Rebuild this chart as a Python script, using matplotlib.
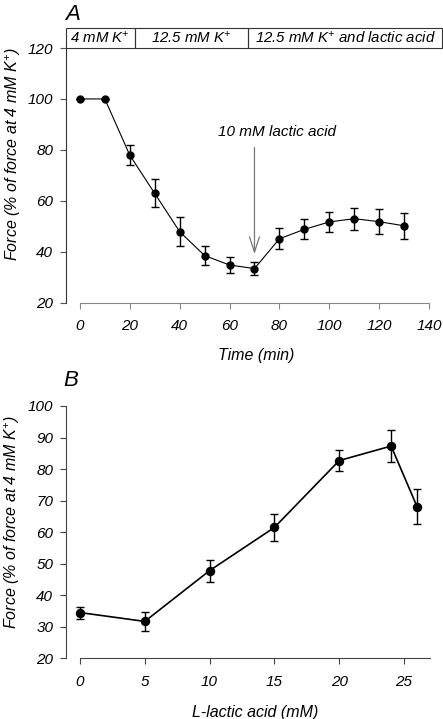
import matplotlib.pyplot as plt
from matplotlib.patches import Rectangle

plt.rcParams['font.family'] = 'Liberation Sans'
plt.rcParams['font.style'] = 'italic'
plt.rcParams['mathtext.fontset'] = 'custom'
plt.rcParams['mathtext.rm'] = 'Liberation Sans:italic'
plt.rcParams['mathtext.it'] = 'Liberation Sans:italic'

# Panel A: force over time
time_min = [0, 10, 20, 30, 40, 50, 60, 70, 80, 90, 100, 110, 120, 130]
force_a = [100, 100, 77.9, 62.9, 47.9, 38.5, 34.8, 33.4, 45.1, 48.8, 51.7, 53.0, 51.8, 50.2]
err_a = [0, 0, 3.9, 5.5, 5.6, 3.8, 3.0, 2.7, 4.1, 3.9, 3.9, 4.3, 5.0, 5.2]

# header segments (start, end, label)
seg_edges = [-5.7, 21.9, 67.5, 145.2]
seg_labels = ["4 mM K$^{+}$", "12.5 mM K$^{+}$", "12.5 mM K$^{+}$ and lactic acid"]

# Panel B: force vs lactic acid concentration
lactic_mm = [0, 5, 10, 15, 20, 24, 26]
force_b = [34.5, 31.7, 47.8, 61.5, 82.7, 87.3, 68.1]
err_b = [1.9, 3.0, 3.5, 4.3, 3.4, 5.1, 5.6]

FS = 11
LFS = 11.5
ylab = "Force (% of force at 4 mM K$^{+}$)"

fig = plt.figure(figsize=(4.43, 7.19), dpi=100)

# --------------------------------------------------
# Panel A
# --------------------------------------------------
axA = fig.add_axes([65.7 / 443, 1 - 302.7 / 719, (442 - 65.7) / 443, (302.7 - 48) / 719])
axA.errorbar(time_min, force_a, yerr=err_a, color='black', marker='o', markersize=5,
             linewidth=0.8, elinewidth=1.0, capsize=3.2, capthick=1.0)
axA.set_xlim(-5.7, 145.2)
axA.set_ylim(20, 120)
axA.set_xticks(range(0, 141, 20))
axA.set_yticks(range(20, 121, 20))
axA.spines['top'].set_visible(False)
axA.spines['right'].set_visible(False)
axA.spines['bottom'].set_bounds(0, 140)
axA.spines['bottom'].set_color('#888888')
axA.spines['left'].set_color('#333333')
axA.tick_params(axis='x', colors='#888888', labelcolor='black', length=4, labelsize=FS, pad=8)
axA.tick_params(axis='y', colors='#555555', labelcolor='black', length=4, labelsize=FS, pad=5)
axA.set_xlabel("Time (min)", fontsize=LFS)
axA.set_ylabel(ylab, fontsize=LFS)
axA.xaxis.set_label_coords(0.506, -0.178)
axA.yaxis.set_label_coords(-0.113, 0.584)

# header box above the plot
box_h = 7.86
for i, lab in enumerate(seg_labels):
    x0, x1 = seg_edges[i], seg_edges[i + 1]
    axA.add_patch(Rectangle((x0, 120), x1 - x0, box_h, fill=False, edgecolor='#333333',
                            linewidth=0.8, clip_on=False))
    axA.text((x0 + x1) / 2, 120 + box_h / 2, lab, ha='center', va='center', fontsize=10.8,
             clip_on=False)

axA.annotate("", xy=(70, 38.0), xytext=(70, 82.0),
             arrowprops=dict(arrowstyle='->,head_length=1.1,head_width=0.36',
                             color='#777777', linewidth=0.9))
axA.text(79, 86.9, "10 mM lactic acid", ha='center', va='center', fontsize=FS)

fig.text(73 / 443, 1 - 15 / 719, "A", fontsize=16, ha='center', va='center')

# --------------------------------------------------
# Panel B
# --------------------------------------------------
axB = fig.add_axes([65.7 / 443, 1 - 658.3 / 719, (430 - 65.7) / 443, (658.3 - 406) / 719])
axB.errorbar(lactic_mm, force_b, yerr=err_b, color='black', marker='o', markersize=5.8,
             linewidth=1.2, elinewidth=1.0, capsize=3.2, capthick=1.0)
axB.set_xlim(-1.1, 27.0)
axB.set_ylim(20, 100)
axB.set_xticks(range(0, 26, 5))
axB.set_yticks(range(20, 101, 10))
axB.spines['top'].set_visible(False)
axB.spines['right'].set_visible(False)
axB.spines['bottom'].set_bounds(0, 27)
axB.spines['bottom'].set_color('#444444')
axB.spines['left'].set_color('#444444')
axB.tick_params(axis='x', colors='#444444', labelcolor='black', length=4, labelsize=FS, pad=8)
axB.tick_params(axis='y', colors='#444444', labelcolor='black', length=4, labelsize=FS, pad=5)
axB.set_xlabel("L-lactic acid (mM)", fontsize=LFS)
axB.set_ylabel(ylab, fontsize=LFS)
axB.xaxis.set_label_coords(0.52, -0.185)
axB.yaxis.set_label_coords(-0.12, 0.54)

fig.text(71 / 443, 1 - 381 / 719, "B", fontsize=16, ha='center', va='center')

fig.savefig("out.png", dpi=100)
